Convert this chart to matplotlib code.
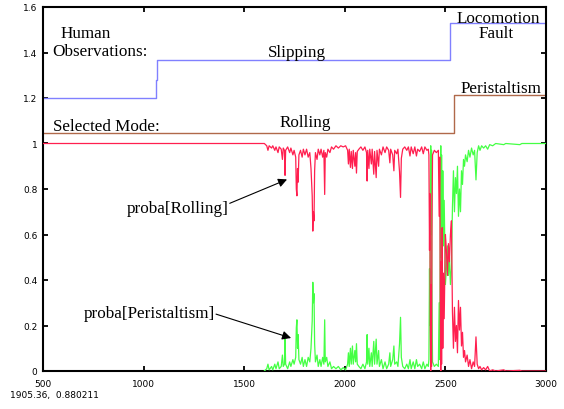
import matplotlib
matplotlib.use("Agg")
import matplotlib.pyplot as plt
import numpy as np
from matplotlib.ticker import FuncFormatter, MultipleLocator

# mode annotations (step lines)
obs_x = [500, 1061, 1067, 2523, 3000]
obs_y = [1.2, 1.28, 1.365, 1.53, 1.53]
mode_x = [500, 2543, 3000]
mode_y = [1.048, 1.215, 1.215]

# probabilities
t = [500, 1600, 1612, 1618, 1624, 1636, 1642, 1652, 1658, 1668, 1674, 1684, 1690,
     1694, 1700, 1703, 1706, 1716, 1726, 1732, 1742, 1748, 1756, 1759, 1762, 1765,
     1768, 1772, 1780, 1788, 1794, 1802, 1810, 1818, 1826, 1832, 1838, 1841, 1844,
     1847, 1850, 1854, 1862, 1868, 1876, 1882, 1890, 1896, 1900, 1903, 1910, 1916,
     1926, 1934, 1944, 1956, 1968, 1980, 1992, 2004, 2014, 2018, 2022, 2028, 2032,
     2038, 2042, 2050, 2054, 2058, 2062, 2070, 2080, 2090, 2100, 2108, 2111, 2114,
     2120, 2124, 2132, 2136, 2144, 2148, 2156, 2160, 2168, 2172, 2182, 2190, 2200,
     2208, 2218, 2224, 2228, 2238, 2244, 2248, 2258, 2264, 2272, 2277, 2281, 2288,
     2298, 2308, 2316, 2324, 2330, 2340, 2348, 2356, 2362, 2372, 2382, 2390, 2398,
     2408, 2415, 2418, 2421, 2423, 2425, 2427, 2429, 2431, 2433, 2436, 2445, 2455,
     2465, 2469, 2472, 2475, 2477, 2479, 2481, 2484, 2487, 2490, 2494, 2500, 2505,
     2510, 2515, 2520, 2525, 2530, 2535, 2540, 2545, 2550, 2555, 2560, 2565, 2570,
     2575, 2580, 2585, 2590, 2595, 2600, 2608, 2615, 2622, 2630, 2638, 2645, 2652,
     2658, 2665, 2672, 2680, 2690, 2700, 2710, 2720, 2735, 2750, 2790, 2800, 2870,
     2880, 3000]
p_rolling = [1.0, 1.0, 0.99, 0.97, 0.99, 0.98, 0.99, 0.97, 0.985, 0.96, 0.985, 0.975, 0.93,
             0.98, 0.97, 0.86, 0.97, 0.985, 0.96, 0.98, 0.95, 0.97, 0.94, 0.80, 0.77, 0.89,
             0.83, 0.95, 0.97, 0.94, 0.975, 0.95, 0.975, 0.94, 0.96, 0.89, 0.77, 0.615, 0.70,
             0.66, 0.88, 0.96, 0.93, 0.975, 0.95, 0.975, 0.94, 0.97, 0.776, 0.96, 0.94, 0.975,
             0.96, 0.985, 0.975, 0.99, 0.98, 0.99, 0.985, 0.99, 0.97, 0.91, 0.975, 0.895, 0.965,
             0.89, 0.97, 0.90, 0.96, 0.87, 0.965, 0.975, 0.985, 0.97, 0.985, 0.96, 0.835, 0.97,
             0.89, 0.975, 0.91, 0.975, 0.865, 0.965, 0.85, 0.97, 0.90, 0.975, 0.95, 0.985, 0.96,
             0.985, 0.97, 0.915, 0.975, 0.95, 0.88, 0.97, 0.955, 0.975, 0.875, 0.763, 0.935, 0.975,
             0.985, 0.97, 0.985, 0.945, 0.985, 0.955, 0.985, 0.945, 0.975, 0.965, 0.985, 0.955, 0.985,
             0.97, 0.975, 0.95, 0.53, 0.78, 0.18, 0.0, 0.38, 0.02, 0.58, 0.95, 0.97, 0.96,
             0.97, 0.68, 0.94, 0.20, 0.0, 0.48, 0.03, 0.63, 0.10, 0.43, 0.23, 0.60, 0.53,
             0.42, 0.56, 0.48, 0.60, 0.66, 0.26, 0.10, 0.28, 0.13, 0.20, 0.08, 0.31, 0.18,
             0.28, 0.11, 0.17, 0.06, 0.09, 0.04, 0.07, 0.02, 0.05, 0.01, 0.04, 0.02, 0.15,
             0.03, 0.01, 0.02, 0.005, 0.015, 0.005, 0.02, 0.0, 0.005, 0.0, 0.005, 0.0, 0.003,
             0.0, 0.0]
p_peristaltism = [np.nan, 0.0, 0.01, 0.03, 0.005, 0.02, 0.005, 0.03, 0.01, 0.04, 0.01, 0.02, 0.07,
                  0.02, 0.03, 0.14, 0.03, 0.01, 0.04, 0.02, 0.05, 0.03, 0.06, 0.19, 0.225, 0.10,
                  0.16, 0.05, 0.03, 0.06, 0.02, 0.05, 0.02, 0.06, 0.04, 0.10, 0.22, 0.39, 0.30,
                  0.34, 0.12, 0.04, 0.07, 0.02, 0.05, 0.02, 0.06, 0.03, 0.225, 0.04, 0.06, 0.02,
                  0.04, 0.01, 0.02, 0.01, 0.02, 0.005, 0.015, 0.005, 0.03, 0.08, 0.02, 0.10, 0.03,
                  0.11, 0.03, 0.09, 0.04, 0.12, 0.03, 0.02, 0.01, 0.03, 0.01, 0.04, 0.16, 0.03,
                  0.10, 0.02, 0.08, 0.02, 0.13, 0.03, 0.14, 0.03, 0.09, 0.02, 0.05, 0.01, 0.04,
                  0.01, 0.03, 0.08, 0.02, 0.05, 0.11, 0.03, 0.04, 0.02, 0.12, 0.236, 0.06, 0.02,
                  0.01, 0.03, 0.01, 0.05, 0.01, 0.04, 0.01, 0.05, 0.02, 0.03, 0.01, 0.04, 0.01,
                  0.03, 0.02, 0.05, 0.45, 0.20, 0.80, 0.99, 0.60, 0.97, 0.40, 0.04, 0.02, 0.03,
                  0.02, 0.30, 0.05, 0.78, 0.99, 0.50, 0.95, 0.35, 0.88, 0.55, 0.75, 0.38, 0.45,
                  0.55, 0.42, 0.50, 0.38, 0.45, 0.72, 0.88, 0.70, 0.85, 0.78, 0.90, 0.68, 0.80,
                  0.70, 0.88, 0.82, 0.93, 0.90, 0.95, 0.92, 0.97, 0.94, 0.98, 0.95, 0.97, 0.84,
                  0.96, 0.99, 0.97, 0.99, 0.98, 0.99, 0.975, 0.995, 0.99, 1.0, 0.995, 1.0, 0.995,
                  1.0, 1.0]

cursor_readout = "1905.36,  0.880211"

SERIF = "Liberation Serif"

fig = plt.figure(figsize=(5.64, 4.10), dpi=100)
ax = fig.add_axes([43 / 564, 38 / 410, 503 / 564, 364 / 410])

ax.plot(obs_x, obs_y, drawstyle="steps-post", color="#8080ff", lw=1.0)
ax.plot(mode_x, mode_y, drawstyle="steps-post", color="#b0694a", lw=1.0)
ax.plot(t, p_peristaltism, color="#44ff44", lw=0.9, zorder=3)
ax.plot(t, p_rolling, color="#ff1f4f", lw=0.9, zorder=4)

ax.set_xlim(500, 3000)
ax.set_ylim(0, 1.6)
ax.xaxis.set_major_locator(MultipleLocator(500))
ax.yaxis.set_major_locator(MultipleLocator(0.2))
ax.yaxis.set_major_formatter(FuncFormatter(lambda v, p: f"{v:g}"))
ax.tick_params(direction="in", length=3.5, width=1.3, top=True, right=True,
               labelsize=6.5, colors="black")
ax.tick_params(axis="x", pad=6)
ax.tick_params(axis="y", pad=4)
for s in ax.spines.values():
    s.set_linewidth(1.5)

txt = dict(family=SERIF, fontsize=12.3, ha="center", va="center", zorder=5)
ax.text(714, 1.487, "Human", **txt)
ax.text(781, 1.408, "Observations:", **txt)
ax.text(816, 1.075, "Selected Mode:", **txt)
ax.text(1762, 1.404, "Slipping", **txt)
ax.text(1802, 1.096, "Rolling", **txt)
ax.text(2764, 1.553, "Locomotion", **txt)
ax.text(2751, 1.487, "Fault", **txt)
ax.text(2776, 1.246, "Peristaltism", **txt)

ax.text(1171, 0.715, "proba[Rolling]", **txt)
ax.text(1027, 0.254, "proba[Peristaltism]", **txt)
arrow = dict(arrowstyle="-|>", color="black", lw=0.8, mutation_scale=13,
             shrinkA=0, shrinkB=0)
ax.annotate("", xy=(1713, 0.842), xytext=(1428, 0.737), arrowprops=arrow, zorder=6)
ax.annotate("", xy=(1733, 0.145), xytext=(1360, 0.25), arrowprops=arrow, zorder=6)

fig.text(10 / 564, 1 - 396 / 410, cursor_readout, fontsize=6.5, ha="left", va="center")

fig.savefig("out.png", dpi=100)
